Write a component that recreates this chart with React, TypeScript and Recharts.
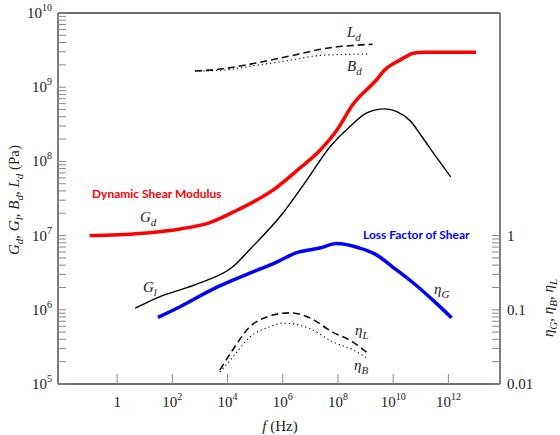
import React from 'react';
import { LineChart, Line, XAxis, YAxis, ReferenceLine, Customized } from 'recharts';

// values: frequency f (Hz) and modulus (Pa) / loss factor
const gdFreq = [0.1, 6.8, 190, 2300, 2.2e4, 4.4e5, 4.1e6, 2.2e7, 8.9e7, 3.4e8, 2.5e9, 4.9e9, 1.7e10, 5.9e10, 1.35e11, 1e13];
const gdVal = [1.0e7, 1.07e7, 1.23e7, 1.5e7, 2.2e7, 4.1e7, 8.1e7, 1.4e8, 2.6e8, 5.8e8, 1.26e9, 1.7e9, 2.3e9, 2.9e9, 2.95e9, 2.95e9];

const glFreq = [4.5, 28, 1000, 1.55e4, 6.4e4, 1e6, 7.4e6, 5e7, 2.6e8, 1.1e9, 4.9e9, 3.9e10, 1.15e11, 3.6e11, 1.2e12];
const glVal = [1.05e6, 1.45e6, 2.3e6, 3.8e6, 6.5e6, 2.0e7, 5.6e7, 1.55e8, 2.9e8, 4.5e8, 5.1e8, 3.6e8, 2.1e8, 1.15e8, 6.2e7];

const ldFreq = [660, 6800, 1.15e5, 1.8e6, 2.8e7, 1.8e9];
const ldVal = [1.65e9, 1.77e9, 2.13e9, 2.63e9, 3.28e9, 3.8e9];

const bdFreq = [660, 6800, 1.15e5, 1.8e6, 2.8e7, 1.4e9];
const bdVal = [1.65e9, 1.7e9, 1.98e9, 2.3e9, 2.7e9, 2.8e9];

const etaGFreq = [30, 190, 2950, 5e4, 6e5, 3.2e6, 2.2e7, 9e7, 6e8, 2.5e9, 9.4e9, 5e10, 3.6e11, 1.3e12];
const etaGVal = [0.079, 0.11, 0.19, 0.3, 0.44, 0.59, 0.68, 0.78, 0.68, 0.55, 0.38, 0.235, 0.123, 0.078];

const etaLFreq = [5300, 1.55e4, 6.4e4, 2.6e5, 1.8e6, 9.4e6, 6.4e7, 3.4e8, 1.2e9];
const etaLVal = [0.0155, 0.029, 0.059, 0.08, 0.091, 0.078, 0.05, 0.037, 0.026];

const etaBFreq = [5300, 1.55e4, 6.4e4, 3.4e5, 1e6, 9.4e6, 6.4e7, 3.4e8, 1.2e9];
const etaBVal = [0.0145, 0.023, 0.043, 0.059, 0.066, 0.056, 0.037, 0.029, 0.022];

// axis ticks
const xTickExps = [0, 2, 4, 6, 8, 10, 12];
const leftDecades = [5, 6, 7, 8, 9];
const rightDecades = [-2, -1];
const minorSteps = [1, 2, 3, 4, 5, 6, 7, 8, 9];
const rightLabels = ['0.01', '0.1', '1'];

const xTicks = xTickExps.map((e) => 10 ** e);
const leftTicks = [...leftDecades.flatMap((d) => minorSteps.map((m) => m * 10 ** d)), 1e10];
const rightTicks = [...rightDecades.flatMap((d) => minorSteps.map((m) => m * 10 ** d)), 1];

const toPoints = (f: number[], v: number[]) => f.map((x, i) => ({ f: x, v: v[i] }));

const SERIF = '"Liberation Serif", "DejaVu Serif", serif';
const SANS = 'Lato, "Open Sans", sans-serif';
const AXIS = '#6e6e6e';
const TICK = '#8a8a8a';

const isDecade = (v: number) => Math.abs(Math.log10(v) - Math.round(Math.log10(v))) < 1e-6;

const LeftTick = (props: any) => {
  const { x, y, payload } = props;
  const v = payload.value;
  const e = Math.round(Math.log10(v));
  return (
    <g>
      <line x1={x} x2={x + 8} y1={y} y2={y} stroke={TICK} />
      {isDecade(v) && (
        <text x={x - 6} y={y + 5} textAnchor="end" fontFamily={SERIF} fontSize={15} fill="#222">
          10<tspan dy={-7} fontSize={10}>{e}</tspan>
        </text>
      )}
    </g>
  );
};

const RightTick = (props: any) => {
  const { x, y, payload } = props;
  const v = payload.value;
  const idx = Math.round(Math.log10(v)) + 2;
  return (
    <g>
      <line x1={x - 8} x2={x} y1={y} y2={y} stroke={TICK} />
      {isDecade(v) && (
        <text x={x + 7} y={y + 5} textAnchor="start" fontFamily={SERIF} fontSize={15} fill="#222">
          {rightLabels[idx]}
        </text>
      )}
    </g>
  );
};

const BottomTick = (props: any) => {
  const { x, y, payload } = props;
  const e = Math.round(Math.log10(payload.value));
  return (
    <g>
      <line x1={x} x2={x} y1={y} y2={y - 10} stroke={TICK} />
      <text x={x} y={y + 23} textAnchor="middle" fontFamily={SERIF} fontSize={15} fill="#222">
        {e === 0 ? '1' : <>10<tspan dy={-7} fontSize={10}>{e}</tspan></>}
      </text>
    </g>
  );
};

const Sym = ({ x, y, base, sub }: { x: number; y: number; base: string; sub: string }) => (
  <text x={x} y={y} fontFamily={SERIF} fontSize={15} fontStyle="italic" fill="#222">
    {base}<tspan dy={4} fontSize={11}>{sub}</tspan>
  </text>
);

const Annotations = () => (
  <g>
    <text x={92} y={198} fontFamily={SANS} fontWeight="bold" fontSize={12} fill="#ff0000">
      Dynamic Shear Modulus
    </text>
    <text x={363} y={239} fontFamily={SANS} fontWeight="bold" fontSize={12} fill="#0000ff">
      Loss Factor of Shear
    </text>
    <Sym x={140} y={222} base="G" sub="d" />
    <Sym x={143} y={292} base="G" sub="l" />
    <Sym x={347} y={37} base="L" sub="d" />
    <Sym x={347} y={71} base="B" sub="d" />
    <Sym x={434} y={294} base="η" sub="G" />
    <Sym x={355} y={335} base="η" sub="L" />
    <Sym x={354} y={370} base="η" sub="B" />
    <text transform="rotate(-90, 19, 200)" x={19} y={200} textAnchor="middle" fontFamily={SERIF} fontSize={15} fill="#222">
      <tspan fontStyle="italic">G</tspan><tspan fontStyle="italic" fontSize={11} dy={4}>d</tspan>
      <tspan dy={-4}>, </tspan><tspan fontStyle="italic">G</tspan><tspan fontStyle="italic" fontSize={11} dy={4}>l</tspan>
      <tspan dy={-4}>, </tspan><tspan fontStyle="italic">B</tspan><tspan fontStyle="italic" fontSize={11} dy={4}>d</tspan>
      <tspan dy={-4}>, </tspan><tspan fontStyle="italic">L</tspan><tspan fontStyle="italic" fontSize={11} dy={4}>d</tspan>
      <tspan dy={-4}> (Pa)</tspan>
    </text>
    <text transform="rotate(-90, 553, 308)" x={553} y={308} textAnchor="middle" fontFamily={SERIF} fontSize={15} fill="#222">
      <tspan fontStyle="italic">η</tspan><tspan fontStyle="italic" fontSize={11} dy={4}>G</tspan>
      <tspan dy={-4}>, </tspan><tspan fontStyle="italic">η</tspan><tspan fontStyle="italic" fontSize={11} dy={4}>B</tspan>
      <tspan dy={-4}>, </tspan><tspan fontStyle="italic">η</tspan><tspan fontStyle="italic" fontSize={11} dy={4}>L</tspan>
    </text>
    <text x={280} y={431} textAnchor="middle" fontFamily={SERIF} fontSize={15} fill="#222">
      <tspan fontStyle="italic">f</tspan> (Hz)
    </text>
  </g>
);

export default function App() {
  return (
    <div style={{ position: 'absolute', left: 0, top: 0, background: '#fff' }}>
      <LineChart width={560} height={435} margin={{ top: 13, right: 0, bottom: 0, left: 0 }}>
        <XAxis
          dataKey="f"
          type="number"
          scale="log"
          domain={[0.0072, 7.4e13]}
          allowDataOverflow
          ticks={xTicks}
          interval={0}
          tick={<BottomTick />}
          tickLine={false}
          tickSize={0}
          tickMargin={0}
          height={51}
          axisLine={{ stroke: AXIS, strokeWidth: 1.8 }}
        />
        <YAxis
          yAxisId="left"
          type="number"
          scale="log"
          domain={[1e5, 1e10]}
          allowDataOverflow
          ticks={leftTicks}
          interval={0}
          tick={<LeftTick />}
          tickLine={false}
          tickSize={0}
          tickMargin={0}
          width={58}
          axisLine={{ stroke: AXIS, strokeWidth: 1.8 }}
        />
        <YAxis
          yAxisId="eta"
          orientation="right"
          type="number"
          scale="log"
          domain={[0.01, 1000]}
          allowDataOverflow
          ticks={rightTicks}
          interval={0}
          tick={<RightTick />}
          tickLine={false}
          tickSize={0}
          tickMargin={0}
          width={60}
          axisLine={{ stroke: AXIS, strokeWidth: 1.8 }}
        />
        <ReferenceLine yAxisId="left" y={1e10} stroke={AXIS} strokeWidth={1.8} ifOverflow="visible" />

        <Line yAxisId="left" data={toPoints(ldFreq, ldVal)} dataKey="v" type="monotone" stroke="#111" strokeWidth={1.6} strokeDasharray="7 4" dot={false} isAnimationActive={false} />
        <Line yAxisId="left" data={toPoints(bdFreq, bdVal)} dataKey="v" type="monotone" stroke="#111" strokeWidth={1.2} strokeDasharray="1.2 3" dot={false} isAnimationActive={false} />
        <Line yAxisId="left" data={toPoints(glFreq, glVal)} dataKey="v" type="monotone" stroke="#000" strokeWidth={1.4} dot={false} isAnimationActive={false} />
        <Line yAxisId="left" data={toPoints(gdFreq, gdVal)} dataKey="v" type="monotone" stroke="#ff0000" strokeWidth={3.5} dot={false} isAnimationActive={false} />
        <Line yAxisId="eta" data={toPoints(etaLFreq, etaLVal)} dataKey="v" type="monotone" stroke="#111" strokeWidth={1.6} strokeDasharray="7 4" dot={false} isAnimationActive={false} />
        <Line yAxisId="eta" data={toPoints(etaBFreq, etaBVal)} dataKey="v" type="monotone" stroke="#111" strokeWidth={1.2} strokeDasharray="1.2 3" dot={false} isAnimationActive={false} />
        <Line yAxisId="eta" data={toPoints(etaGFreq, etaGVal)} dataKey="v" type="monotone" stroke="#0000ff" strokeWidth={3.5} dot={false} isAnimationActive={false} />

        <Customized component={Annotations} />
      </LineChart>
    </div>
  );
}
